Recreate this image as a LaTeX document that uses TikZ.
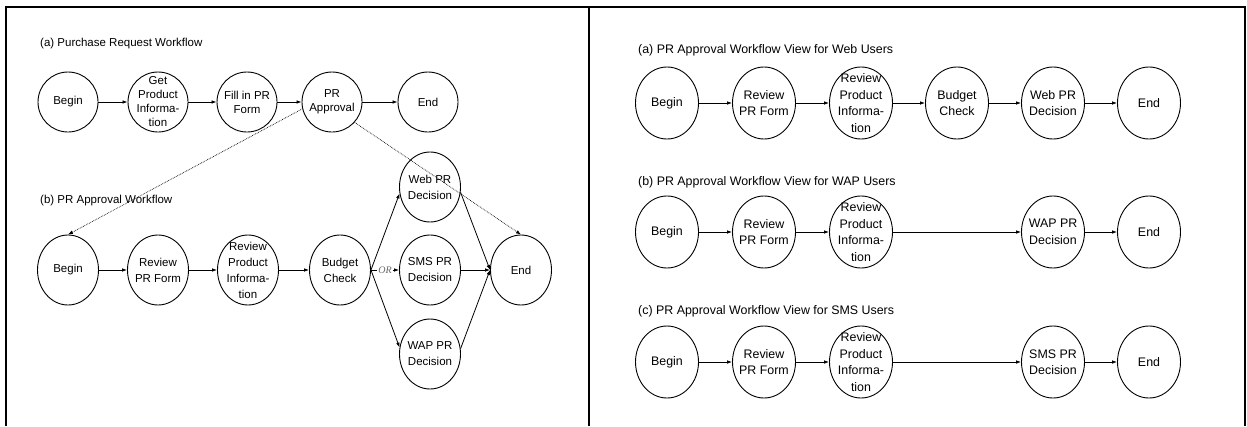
\documentclass[tikz,border=0pt]{standalone}
\usepackage{fontspec}
\setmainfont{Liberation Sans}
\newfontfamily\orfont{Liberation Serif}
\usetikzlibrary{shapes.geometric,arrows.meta}

\tikzset{
  frame/.style={line width=2.2pt},
  wf/.style={ellipse,draw,line width=0.9pt,inner sep=0pt,
             minimum width=61pt,minimum height=70pt},
  wfround/.style={wf,minimum width=60pt,minimum height=60pt},
  wfview/.style={wf,minimum width=63pt,minimum height=72pt},
  txta/.style={align=center,inner sep=0pt,font=\fontsize{11.5}{14}\selectfont},
  txtb/.style={align=center,inner sep=0pt,font=\fontsize{11.5}{16}\selectfont},
  txtr/.style={align=center,inner sep=0pt,font=\fontsize{12.4}{16.5}\selectfont},
  caption/.style={anchor=west,inner sep=0pt,font=\fontsize{11.5}{14}\selectfont},
  captionr/.style={caption,font=\fontsize{12.4}{15}\selectfont},
  arr/.style={line width=0.8pt,-{Latex[length=5pt,width=3.6pt]}},
  dotarr/.style={line width=0.7pt,densely dotted,-{Latex[length=5pt,width=3.6pt]}},
  orlbl/.style={fill=white,inner sep=1pt,text=black!60,
                font=\orfont\itshape\fontsize{10}{10}\selectfont}
}

% workflow step: shape style, text style, name, position, text
\newcommand\wfnode[5]{\node[#1,label={[#2]center:{#5}}] (#3) at (#4) {};}

\begin{document}
\begin{tikzpicture}[x=1pt,y=-1pt]
\useasboundingbox (0,0) rectangle (1247,426);

% panel frames
\draw[frame] (6,426) -- (6,7) -- (1245,7) -- (1245,426);
\draw[frame] (589,7) -- (589,426);

% ---------- left panel ----------
\node[caption] (capa) at (40,44) {(a) Purchase Request Workflow};
\wfnode{wfround}{txta}{pa0}{68,102}{Begin}
\wfnode{wfround}{txta}{pa1}{158,102}{Get\\Product\\Informa-\\tion}
\wfnode{wfround}{txta}{pa2}{247,102}{Fill in PR\\Form}
\wfnode{wfround}{txta}{pa3}{332,102}{PR\\Approval}
\wfnode{wfround}{txta}{pa4}{428,102}{End}
\draw[arr] (pa0) -- (pa1);
\draw[arr] (pa1) -- (pa2);
\draw[arr] (pa2) -- (pa3);
\draw[arr] (pa3) -- (pa4);

\node[caption] (capb) at (40,201) {(b) PR Approval Workflow};
\wfnode{wf}{txtb}{pb0}{68,270}{Begin}
\wfnode{wf}{txtb}{pb1}{158,270}{Review\\PR Form}
\wfnode{wf}{txtb}{pb2}{248,270}{Review\\Product\\Informa-\\tion}
\wfnode{wf}{txtb}{pb3}{340,270}{Budget\\Check}
\wfnode{wf}{txtb}{pbw}{430,187}{Web PR\\Decision}
\wfnode{wf}{txtb}{pbs}{430,270}{SMS PR\\Decision}
\wfnode{wf}{txtb}{pbp}{430,354}{WAP PR\\Decision}
\wfnode{wf}{txtb}{pb4}{521,270}{End}
\draw[arr] (pb0) -- (pb1);
\draw[arr] (pb1) -- (pb2);
\draw[arr] (pb2) -- (pb3);
\draw[arr] (pb3.east) -- (pbw.192);
\draw[arr] (pb3) -- node[orlbl] (or) {OR} (pbs);
\draw[arr] (pb3.east) -- (pbp.168);
\draw[arr] (pbw.-10) -- (pb4.west);
\draw[arr] (pbs) -- (pb4.west);
\draw[arr] (pbp.10) -- (pb4.west);

% PR Approval expands into the approval workflow
\draw[dotarr] (pa3.193) -- (pb0.north);
\draw[dotarr] (pa3.-42) -- (pb4.north);

% ---------- right panel ----------
\node[captionr] (capra) at (638,50) {(a) PR Approval Workflow View for Web Users};
\wfnode{wfview}{txtr}{ra0}{667,103}{Begin}
\wfnode{wfview}{txtr}{ra1}{764,103}{Review\\PR Form}
\wfnode{wfview}{txtr}{ra2}{861,103}{Review\\Product\\Informa-\\tion}
\wfnode{wfview}{txtr}{ra3}{957,103}{Budget\\Check}
\wfnode{wfview}{txtr}{ra4}{1053,103}{Web PR\\Decision}
\wfnode{wfview}{txtr}{ra5}{1149,103}{End}
\draw[arr] (ra0) -- (ra1);
\draw[arr] (ra1) -- (ra2);
\draw[arr] (ra2) -- (ra3);
\draw[arr] (ra3) -- (ra4);
\draw[arr] (ra4) -- (ra5);

\node[captionr] (caprb) at (638,182) {(b) PR Approval Workflow View for WAP Users};
\wfnode{wfview}{txtr}{rb0}{667,232}{Begin}
\wfnode{wfview}{txtr}{rb1}{764,232}{Review\\PR Form}
\wfnode{wfview}{txtr}{rb2}{861,232}{Review\\Product\\Informa-\\tion}
\wfnode{wfview}{txtr}{rb4}{1053,232}{WAP PR\\Decision}
\wfnode{wfview}{txtr}{rb5}{1149,232}{End}
\draw[arr] (rb0) -- (rb1);
\draw[arr] (rb1) -- (rb2);
\draw[arr] (rb2) -- (rb4);
\draw[arr] (rb4) -- (rb5);

\node[captionr] (caprc) at (638,311) {(c) PR Approval Workflow View for SMS Users};
\wfnode{wfview}{txtr}{rc0}{667,362}{Begin}
\wfnode{wfview}{txtr}{rc1}{764,362}{Review\\PR Form}
\wfnode{wfview}{txtr}{rc2}{861,362}{Review\\Product\\Informa-\\tion}
\wfnode{wfview}{txtr}{rc4}{1053,362}{SMS PR\\Decision}
\wfnode{wfview}{txtr}{rc5}{1149,362}{End}
\draw[arr] (rc0) -- (rc1);
\draw[arr] (rc1) -- (rc2);
\draw[arr] (rc2) -- (rc4);
\draw[arr] (rc4) -- (rc5);
\end{tikzpicture}
\end{document}
